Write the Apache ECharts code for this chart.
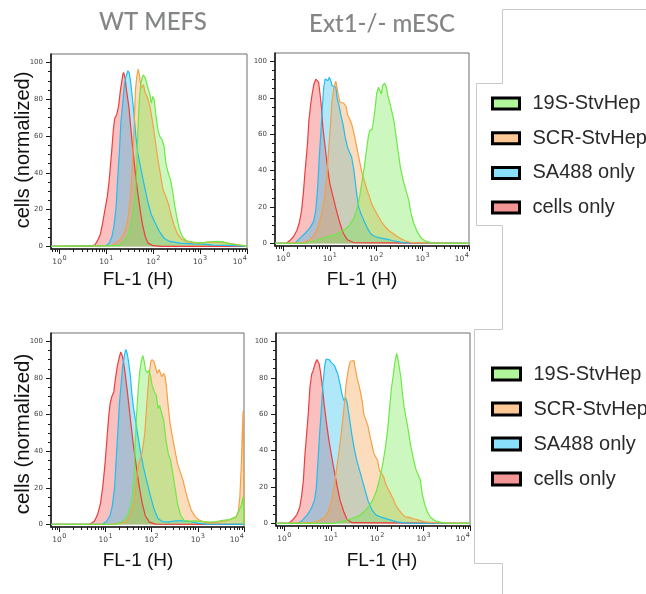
<!DOCTYPE html>
<html>
<head>
<meta charset="utf-8">
<script src="https://cdn.jsdelivr.net/npm/echarts@6/dist/echarts.min.js"></script>
<style>
  html, body { margin: 0; padding: 0; background: #ffffff; }
  #chart { width: 646px; height: 594px; }
</style>
</head>
<body>
<div id="chart"></div>
<script>
// Sample labels, in legend order
const seriesNames = ['19S-StvHep', 'SCR-StvHep', 'SA488 only', 'cells only'];

// Tick marks: decades of FL-1 (as log10) and percent of max
const decadeTicks = [0, 1, 2, 3, 4];
const percentTicks = [0, 20, 40, 60, 80, 100];
const minorPercentTicks = [5, 10, 15, 25, 30, 35, 45, 50, 55, 65, 70, 75, 85, 90, 95];

// Histograms: [FL-1 (H), cells (% of max)]
// Row 1
const wtTop_cells = [[4.47,0],[5.75,0.9],[6.61,3.6],[7.41,6.3],[8.32,12.7],[9.33,19.9],[10.5,27.2],[11.5,36],[12.9,50.7],[14.1,63.4],[15.1,69.7],[16.6,71.6],[18.2,76.1],[20.0,85.1],[22.4,93.3],[23.4,94.6],[25.1,91.5],[26.9,85],[30.2,76],[33.1,65],[36.3,54],[40.7,42],[45.7,31],[52.5,20],[58.9,12],[67.6,5.4],[77.6,1.8],[100,0.4],[150,0]];
const wtTop_sa488 = [[9.77,0.4],[11.5,1.8],[13.2,5.4],[14.5,10.9],[16.2,21.7],[17.4,36.2],[19.1,52.5],[20.4,67],[22.4,77.9],[24.0,87],[26.3,92.4],[28.8,95.5],[30.9,94.2],[33.1,88.8],[36.3,79.7],[39.8,68.8],[42.7,59.8],[46.8,50.7],[52.5,44.4],[58.9,38],[67.6,30.8],[77.6,23.6],[91.2,17.2],[110,12.7],[135,8.2],[170,4.5],[224,2.7],[372,1.8],[708,1.4],[1150,1.3],[1905,0.7],[5012,0.4]];
const wtTop_scr = [[12.0,0.4],[15.1,1.4],[19.5,3.6],[24.0,7.2],[28.2,13.6],[31.6,23.6],[34.7,36.2],[37.2,52.5],[39.8,70.7],[41.7,85.1],[44.7,92.4],[47.9,96.4],[51.3,92.4],[55.0,86],[61.7,87.9],[67.6,83.3],[74.1,81.5],[85.1,76.1],[97.7,67],[110,58],[126,47.1],[145,38],[162,30.8],[186,27.2],[214,22.6],[240,17.2],[275,11.8],[324,7.2],[398,4],[550,2.5],[832,1.8],[1349,2.2],[2042,2.5],[3090,2.2],[5012,1.4],[8128,0.5]];
const wtTop_19s = [[18.2,0.4],[22.9,2.2],[28.2,5.4],[33.1,10.9],[37.2,18.1],[41.7,29],[44.7,43.5],[46.8,61.6],[50.1,77.9],[53.7,87],[57.5,91.5],[61.7,93.3],[67.6,91.5],[72.4,91.5],[77.6,86],[85.1,82.4],[91.2,77.9],[97.7,81.5],[105,79.7],[115,70.7],[126,63.4],[138,59.8],[155,58],[170,54.3],[186,45.3],[209,39.9],[234,36.2],[257,30.8],[282,23.6],[316,16.3],[355,10],[417,5.4],[513,3.1],[708,2.4],[1000,1.8],[1479,2.4],[2239,2.7],[3090,2.5],[4266,1.4],[5888,0.9],[8913,0.4]];

const extTop_cells = [[1.17,0.2],[1.38,1.6],[1.66,3.8],[1.95,7.1],[2.19,11.1],[2.45,17.5],[2.69,27.5],[2.95,40.3],[3.31,54.8],[3.55,67.6],[3.89,76.7],[4.17,82.1],[4.57,87.6],[5.01,90.2],[5.37,90.9],[5.75,88.5],[6.17,82.1],[6.61,74.9],[7.08,63.9],[7.94,53],[8.91,42.1],[10,33],[12.0,24.8],[14.1,17.5],[16.6,11.1],[19.5,5.6],[24.0,2],[32.4,0.5]];
const extTop_sa488 = [[1.78,0.2],[2.29,2.9],[2.95,5.6],[3.72,8.4],[4.47,12],[5.01,18.4],[5.50,31.1],[5.89,45.7],[6.46,62.1],[6.92,74.9],[7.41,85.8],[7.94,90.3],[8.51,90.9],[9.12,89.4],[9.77,91.3],[10.5,89.4],[11.2,86.7],[12.3,87.6],[13.5,85.8],[14.5,79.4],[15.8,75.8],[17.4,70.3],[19.5,64.8],[21.4,58.5],[24.0,53],[26.3,50.3],[29.5,47.5],[33.1,40.3],[37.2,29.3],[41.7,20.2],[47.9,15.7],[53.7,12.9],[64.6,8.4],[75.9,5.3],[93.3,3.8],[120,3.1],[166,2.4],[234,1.5],[380,0.5]];
const extTop_scr = [[2.69,0.5],[3.72,2],[4.79,5.3],[5.62,9.3],[6.61,15.7],[7.76,25.7],[8.71,38.4],[9.55,53],[10.5,67.6],[11.2,78.5],[12.3,85.8],[13.5,89.1],[14.1,88.5],[15.1,82.1],[16.6,77.6],[17.8,78.5],[20.0,77],[22.4,75.2],[24.5,70.3],[26.9,68.5],[30.2,64.8],[33.9,59.4],[38.0,53],[42.7,46.6],[49.0,39.3],[57.5,33],[67.6,27.5],[79.4,22],[93.3,18.4],[110,15.1],[129,12],[155,9.3],[186,7.1],[234,5.3],[295,3.5],[417,1.5],[575,0.4]];
const extTop_19s = [[3.16,0.2],[4.79,1.5],[7.24,2.9],[10,4.2],[12.9,4.7],[16.6,6.2],[21.4,7.8],[26.9,10.2],[33.1,13.8],[38.9,19.3],[44.7,26.6],[50.1,34.8],[56.2,43],[61.7,51.2],[67.6,58.5],[72.4,62.1],[81.3,62.5],[87.1,66.7],[95.5,74.9],[102,82.1],[112,85.8],[123,84.9],[129,82.1],[138,86.7],[151,88],[166,85.8],[178,81.2],[195,77.6],[219,72.1],[240,67.6],[263,60.3],[295,51.2],[331,42.1],[380,34.8],[437,29.3],[501,23.9],[562,16.6],[646,11.1],[759,6.6],[933,2.9],[1202,1.1],[1698,0.2]];

// Row 2
const wtBot_cells = [[4.47,0],[5.75,1.8],[6.76,5.5],[7.76,11.3],[8.71,20.4],[9.77,33.2],[10.7,46],[11.7,58.8],[12.6,66.1],[13.8,70.1],[15.1,72.4],[16.6,80.7],[18.2,87],[20.0,91.6],[21.4,94.2],[22.9,92.5],[24.5,88.9],[26.3,83.4],[29.5,73.4],[32.4,64.2],[35.5,55.1],[39.8,44.2],[45.7,33.2],[52.5,22.3],[61.7,12.2],[72.4,4.9],[89.1,1.3],[120,0.2]];
const wtBot_sa488 = [[8.71,0.2],[10.5,1.6],[12.6,4.9],[14.1,10.4],[15.8,20.4],[17.0,35],[18.6,51.5],[20.0,66.1],[21.9,77],[23.4,86.1],[25.7,92.5],[27.5,95.6],[29.5,93.4],[31.6,88.9],[34.7,80.7],[37.2,71.5],[40.7,63.3],[44.7,56.9],[50.1,48.7],[57.5,39.6],[66.1,31.4],[77.6,24.1],[93.3,15.9],[112,8.6],[138,3.1],[170,1.6],[229,1.3],[324,2],[447,2],[676,1.6],[1000,0.7],[1514,0.2]];
const wtBot_scr = [[14.1,0.2],[20.0,0.7],[27.5,1.3],[34.7,4.9],[41.7,12.2],[46.8,24.1],[52.5,33.2],[61.7,38.7],[70.8,49.6],[77.6,64.2],[87.1,80.7],[95.5,88.9],[102,90.1],[112,88.9],[123,85.2],[132,82.5],[145,84.7],[155,84.3],[166,80.7],[182,82.5],[195,81],[209,75.2],[229,64.2],[251,55.1],[282,47.8],[324,39.6],[363,33.2],[417,28.6],[479,24.1],[537,18.6],[617,13.1],[724,7.7],[891,4],[1096,2.2],[1413,1.3],[1950,0.9],[2692,1.3],[3715,1.6],[5012,2.6],[6918,4.4],[7586,7.7],[8128,15],[8710,31.4],[9120,47.8],[9550,62],[10000,62]];
const wtBot_19s = [[16.6,0.2],[22.4,1.3],[28.8,4],[33.9,8.6],[38.0,15],[41.7,25.9],[43.7,42.3],[46.8,58.8],[51.3,74.3],[55.0,83.4],[60.3,89.8],[64.6,92.3],[69.2,88.9],[74.1,84.3],[81.3,82.8],[87.1,84.3],[95.5,80.7],[102,76.1],[115,72.4],[126,70.6],[138,63.3],[148,65.1],[162,61.5],[182,56.9],[204,46],[229,38.7],[257,35],[288,27.7],[324,19.5],[363,11.3],[427,4.9],[501,2.2],[676,1.8],[933,2],[1288,1.6],[1778,1.3],[2512,1.6],[3467,2.2],[4786,2.6],[6761,4],[7586,6.8],[8710,10.4],[9550,15],[10000,16]];

const extBot_cells = [[1.23,0],[1.55,2.2],[1.86,4.9],[2.14,8.8],[2.34,14.6],[2.57,23.7],[2.75,36.5],[3.02,49.3],[3.31,62],[3.55,74.8],[3.89,82.1],[4.17,83.9],[4.57,87.6],[5.01,90],[5.25,90.3],[5.62,87.6],[6.03,83],[6.61,74.8],[7.24,64.8],[8.13,54.7],[9.12,45.6],[10.5,36.5],[12.0,28.3],[13.8,20.1],[15.8,12.8],[19.1,6.4],[22.4,2.2],[28.8,0.4]];
const extBot_sa488 = [[1.86,0],[2.40,1.5],[3.09,4.6],[3.80,8.2],[4.47,12.8],[4.90,20.1],[5.25,32.8],[5.75,49.3],[6.31,63.9],[6.76,76.6],[7.41,86.7],[7.94,90.3],[8.71,90.9],[9.33,89.8],[10.2,88.5],[11.2,89.4],[12.0,86.7],[13.2,85.8],[14.1,82.1],[15.8,76.6],[17.4,71.2],[19.1,67.5],[20.9,69],[22.4,66.6],[25.1,58.4],[28.2,49.3],[31.6,42],[35.5,35.6],[40.7,30.1],[46.8,24.6],[55.0,18.2],[64.6,11.9],[77.6,7.3],[95.5,4.6],[126,3.3],[174,2.2],[263,0.9],[437,0.2]];
const extBot_scr = [[4.27,0.4],[5.89,1.8],[7.59,3.6],[8.91,6.9],[10.5,12.8],[12.0,21],[13.5,31],[15.5,42],[17.4,52.9],[19.5,64.8],[21.4,76.6],[24.0,84.9],[26.3,89.1],[28.8,90.1],[31.6,89.4],[33.9,84.9],[37.2,79.4],[40.7,75.7],[43.7,72.1],[47.9,66.6],[51.3,60.2],[57.5,56.6],[63.1,53.8],[69.2,48.4],[77.6,42.9],[85.1,38.3],[93.3,39.2],[102,34.7],[112,29.2],[123,27.7],[138,25.5],[151,21.9],[170,19.2],[191,16.8],[219,13.7],[251,10],[295,7.3],[347,5.1],[407,3.6],[501,3.3],[603,2.6],[776,1.8],[1072,0.9],[1622,0.4]];
const extBot_19s = [[11.5,0],[19.1,1.3],[28.8,2.7],[39.8,4],[52.5,6.4],[69.2,10],[83.2,13.7],[97.7,18.2],[115,25.5],[132,32.8],[151,42],[170,52.9],[186,63.9],[204,74.8],[219,80.3],[240,88.5],[263,93.4],[275,91.2],[295,86.7],[324,80.3],[347,72.1],[380,63.9],[417,58.4],[468,51.1],[525,42.9],[603,35.6],[692,29.2],[776,26.5],[851,23.7],[933,16.4],[1047,10.9],[1202,6.4],[1413,3.3],[1778,1.5],[2239,0.7],[3162,0.2]];

// Axis extents
const X_MIN = 0.66, X_MAX = 10000;
const LOG_MIN = Math.log10(X_MIN), LOG_MAX = Math.log10(X_MAX);
const Y_MIN = -1.4, Y_MAX = 104.6;

// log10 positions of the 2..9 minor ticks inside every decade
const minorLogTicks = [];
for (let d = -1; d <= 3; d++) {
  for (let m = 2; m <= 9; m++) {
    const v = m * Math.pow(10, d);
    if (v >= X_MIN && v < X_MAX) minorLogTicks.push(Math.log10(v));
  }
}

// Panel layout and the histograms each one shows (drawing order: bottom to top)
const panels = [
  { box: { left: 51,  top: 54,  width: 196, height: 195 },
    sets: { 'cells only': wtTop_cells, 'SA488 only': wtTop_sa488, 'SCR-StvHep': wtTop_scr, '19S-StvHep': wtTop_19s } },
  { box: { left: 275, top: 53,  width: 194, height: 193 },
    sets: { 'cells only': extTop_cells, 'SA488 only': extTop_sa488, 'SCR-StvHep': extTop_scr, '19S-StvHep': extTop_19s } },
  { box: { left: 51,  top: 333, width: 193, height: 194 },
    sets: { 'cells only': wtBot_cells, 'SA488 only': wtBot_sa488, 'SCR-StvHep': wtBot_scr, '19S-StvHep': wtBot_19s } },
  { box: { left: 276, top: 333, width: 194, height: 193 },
    sets: { 'cells only': extBot_cells, 'SA488 only': extBot_sa488, 'SCR-StvHep': extBot_scr, '19S-StvHep': extBot_19s } }
];
const drawOrder = ['cells only', 'SA488 only', 'SCR-StvHep', '19S-StvHep'];

const palette = {
  'cells only': { line: '#f03c3c', fill: 'rgba(240,60,60,0.47)',  key: '#f59696' },
  'SA488 only': { line: '#1ebef0', fill: 'rgba(30,190,240,0.50)', key: '#88e0fa' },
  'SCR-StvHep': { line: '#f5a046', fill: 'rgba(245,160,70,0.52)', key: '#fcc896' },
  '19S-StvHep': { line: '#6ee846', fill: 'rgba(110,232,70,0.50)', key: '#b0f59a' }
};

const AXIS_INK = '#1a1a1a';
const LABEL_INK = '#444';
const TICK_FONT = 'DejaVu Sans';

// Each trace runs along the baseline across the whole axis
function withBaseline(points) {
  const out = [[X_MIN, 0]].concat(points);
  out.push([X_MAX, 0]);
  return out;
}

const grids = [], xAxes = [], yAxes = [], series = [];
panels.forEach((p, i) => {
  grids.push(Object.assign({ show: true, borderColor: '#6e6e6e', borderWidth: 1, backgroundColor: 'transparent' }, p.box));

  // data axis (log scale)
  xAxes.push({
    type: 'log', logBase: 10, gridIndex: i, position: 'bottom', min: X_MIN, max: X_MAX,
    axisLine: { show: true, onZero: false, lineStyle: { color: AXIS_INK, width: 1.6 } },
    axisTick: { show: false }, axisLabel: { show: false }, splitLine: { show: false }
  });
  // decade ticks and labels
  xAxes.push({
    type: 'value', gridIndex: i, position: 'bottom', offset: 0, min: LOG_MIN, max: LOG_MAX,
    axisLine: { show: false, onZero: false },
    axisTick: { show: true, length: 5, customValues: decadeTicks, lineStyle: { color: AXIS_INK, width: 1 } },
    axisLabel: {
      customValues: decadeTicks, margin: 6, alignMaxLabel: 'right',
      formatter: v => '{b|10}{e|' + Math.round(v) + '}',
      rich: {
        b: { fontFamily: TICK_FONT, fontSize: 7.5, color: LABEL_INK, verticalAlign: 'bottom' },
        e: { fontFamily: TICK_FONT, fontSize: 6.5, color: LABEL_INK, padding: [0, 0, 4, 0.5], verticalAlign: 'top' }
      }
    },
    splitLine: { show: false }
  });
  // 2..9 minor ticks
  xAxes.push({
    type: 'value', gridIndex: i, position: 'bottom', offset: 0, min: LOG_MIN, max: LOG_MAX,
    axisLine: { show: false, onZero: false },
    axisTick: { show: true, length: 3, customValues: minorLogTicks, lineStyle: { color: AXIS_INK, width: 1 } },
    axisLabel: { show: false }, splitLine: { show: false }
  });

  yAxes.push({
    type: 'value', gridIndex: i, position: 'left', offset: 0, min: Y_MIN, max: Y_MAX,
    axisLine: { show: true, onZero: false, lineStyle: { color: AXIS_INK, width: 1.6 } },
    axisTick: { show: true, length: 5, customValues: percentTicks, lineStyle: { color: AXIS_INK, width: 1 } },
    axisLabel: { customValues: percentTicks, margin: 8, fontFamily: TICK_FONT, fontSize: 7, color: LABEL_INK },
    splitLine: { show: false }
  });
  yAxes.push({
    type: 'value', gridIndex: i, position: 'left', offset: 0, min: Y_MIN, max: Y_MAX,
    axisLine: { show: false, onZero: false },
    axisTick: { show: true, length: 3, customValues: minorPercentTicks, lineStyle: { color: AXIS_INK, width: 1 } },
    axisLabel: { show: false }, splitLine: { show: false }
  });

  drawOrder.forEach(name => {
    const c = palette[name];
    series.push({
      type: 'line', name: name,
      xAxisIndex: 3 * i, yAxisIndex: 2 * i,
      data: withBaseline(p.sets[name]),
      showSymbol: false, symbol: 'none', smooth: false, silent: true,
      itemStyle: { color: c.line },
      lineStyle: { color: c.line, width: 1.2 },
      areaStyle: { color: c.fill },
      clip: true
    });
  });
});

function legendBlock(top, itemWidth, itemHeight, gap) {
  return {
    orient: 'vertical', left: 491, top: top, padding: 0,
    itemWidth: itemWidth, itemHeight: itemHeight, itemGap: gap,
    icon: 'rect', selectedMode: false,
    data: seriesNames.map(n => ({
      name: n,
      itemStyle: { color: palette[n].key, borderColor: '#000', borderWidth: 3 }
    })),
    textStyle: { fontFamily: 'Liberation Sans', fontSize: 20, color: '#2a2a2a', padding: [0, 0, 0, 8] }
  };
}

const frameInk = '#c9c9c9';
const titleFont = '500 24px Lato';
const graphic = [
  { type: 'text', x: 153, y: 22,
    style: { text: 'WT MEFS', font: titleFont, fill: '#848686', textAlign: 'center', textVerticalAlign: 'middle' } },
  { type: 'text', x: 382, y: 24,
    style: { text: 'Ext1-/- mESC', font: titleFont, fill: '#848686', textAlign: 'center', textVerticalAlign: 'middle' } },

  { type: 'text', x: 138, y: 280, style: { text: 'FL-1 (H)', font: '19px "Liberation Sans"', fill: '#111', textAlign: 'center', textVerticalAlign: 'middle' } },
  { type: 'text', x: 362, y: 280, style: { text: 'FL-1 (H)', font: '19px "Liberation Sans"', fill: '#111', textAlign: 'center', textVerticalAlign: 'middle' } },
  { type: 'text', x: 138, y: 561, style: { text: 'FL-1 (H)', font: '19px "Liberation Sans"', fill: '#111', textAlign: 'center', textVerticalAlign: 'middle' } },
  { type: 'text', x: 382, y: 561, style: { text: 'FL-1 (H)', font: '19px "Liberation Sans"', fill: '#111', textAlign: 'center', textVerticalAlign: 'middle' } },

  { type: 'text', x: 23, y: 150, rotation: Math.PI / 2,
    style: { text: 'cells (normalized)', font: '20px "Liberation Sans"', fill: '#111', textAlign: 'center', textVerticalAlign: 'middle' } },
  { type: 'text', x: 23, y: 434, rotation: Math.PI / 2,
    style: { text: 'cells (normalized)', font: '20.5px "Liberation Sans"', fill: '#111', textAlign: 'center', textVerticalAlign: 'middle' } },

  { type: 'polyline', silent: true,
    shape: { points: [[646, 9.5], [502.5, 9.5], [502.5, 83.5], [476.5, 83.5], [476.5, 225.5], [502.5, 225.5],
                      [502.5, 329.5], [474.5, 329.5], [474.5, 563.5], [502.5, 563.5], [502.5, 594]] },
    style: { stroke: frameInk, lineWidth: 1, fill: null } }
];

const chart = echarts.init(document.getElementById('chart'), null, { renderer: 'canvas' });
chart.setOption({
  animation: false,
  backgroundColor: '#ffffff',
  grid: grids,
  xAxis: xAxes,
  yAxis: yAxes,
  legend: [legendBlock(93.5, 27, 11, 14.7), legendBlock(364, 28, 12, 15)],
  graphic: graphic,
  series: series
});
</script>
</body>
</html>
